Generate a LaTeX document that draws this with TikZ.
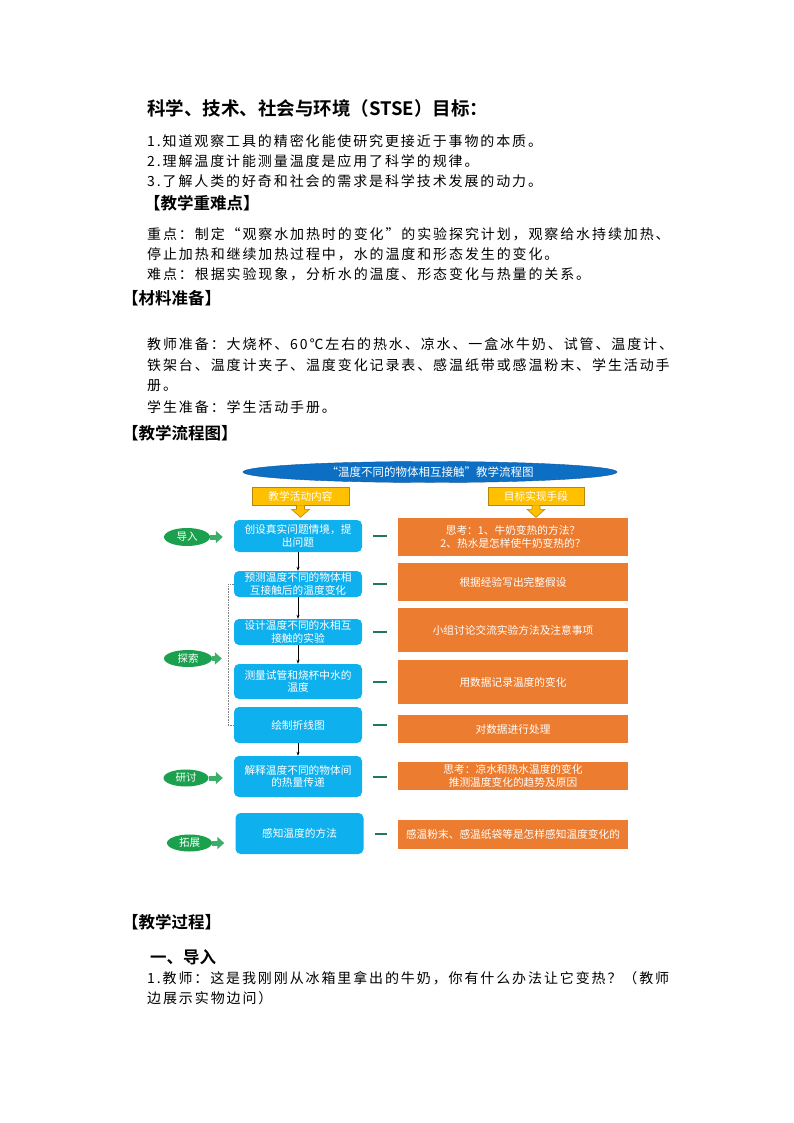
\documentclass[tikz,border=0pt]{standalone}
\usepackage{fontspec}
\setmainfont{Noto Sans CJK SC}[BoldFont={Noto Sans CJK SC Bold}]
\newfontfamily\bodyfont{Noto Sans CJK SC}[LetterSpace=13.5]
\usetikzlibrary{shapes.geometric, arrows.meta}

\definecolor{actblue}{HTML}{0FB0EE}
\definecolor{aimorange}{HTML}{EC7C30}
\definecolor{stagegreen}{HTML}{1BA04E}
\definecolor{linkgreen}{HTML}{217A55}
\definecolor{tagyellow}{HTML}{FFC000}
\definecolor{tagedge}{HTML}{B8860B}
\definecolor{titleblue}{HTML}{0C6FC4}

\begin{document}
\begin{tikzpicture}[x=1pt, y=-1pt,
    txt/.style={anchor=west, inner sep=0pt, font=\fontsize{14}{16}\bodyfont},
    head/.style={anchor=west, inner sep=0pt, font=\fontsize{16.5}{18}\selectfont\bfseries},
    act/.style={fill=actblue, rounded corners=5pt, minimum width=128pt, inner sep=0pt,
      text=white, align=center, font=\fontsize{10.7}{12.5}\selectfont},
    aim/.style={fill=aimorange, minimum width=230pt, inner sep=0pt,
      text=white, align=center, font=\fontsize{10.7}{12.5}\selectfont},
    stage/.style={ellipse, fill=stagegreen, inner sep=0pt, minimum height=17pt,
      text=white, font=\fontsize{10.5}{11}\selectfont},
    tag/.style={fill=tagyellow, draw=tagedge, line width=0.6pt, minimum width=97pt,
      minimum height=18pt, inner sep=0pt, text=white, font=\fontsize{10.7}{11}\selectfont},
    link/.style={draw=linkgreen, line width=2pt, shorten <=11pt, shorten >=11pt},
    push/.style={draw=stagegreen!85!white, line width=5pt, shorten >=11pt,
      -{Triangle[length=7pt, width=12pt]}},
    flow/.style={draw=black, line width=0.7pt, -{Stealth[length=4pt, width=3pt]}},
    bracket/.style={draw=gray, line width=0.6pt, densely dotted}]
  \fill[white] (0,0) rectangle (794,1123);
  \useasboundingbox (0,0) rectangle (794,1123);

  % goals and key points
  \node[head, font=\fontsize{18.5}{20}\selectfont\bfseries] (goal) at (147,108) {科学、技术、社会与环境（STSE）目标：};
  \node[txt] (goal1) at (147,141) {1.知道观察工具的精密化能使研究更接近于事物的本质。};
  \node[txt] (goal2) at (147,161) {2.理解温度计能测量温度是应用了科学的规律。};
  \node[txt] (goal3) at (147,181) {3.了解人类的好奇和社会的需求是科学技术发展的动力。};
  \node[head] (keys) at (144,203) {【教学重难点】};
  \node[txt] (key1) at (147,234) {重点：制定“观察水加热时的变化”的实验探究计划，观察给水持续加热、};
  \node[txt] (key2) at (147,254) {停止加热和继续加热过程中，水的温度和形态发生的变化。};
  \node[txt] (key3) at (147,274) {难点：根据实验现象，分析水的温度、形态变化与热量的关系。};
  \node[head] (mats) at (122,298) {【材料准备】};
  \node[txt] (mat1) at (147,344) {教师准备：大烧杯、60℃左右的热水、凉水、一盒冰牛奶、试管、温度计、};
  \node[txt] (mat2) at (147,365) {铁架台、温度计夹子、温度变化记录表、感温纸带或感温粉末、学生活动手};
  \node[txt] (mat3) at (147,386) {册。};
  \node[txt] (mat4) at (147,407) {学生准备：学生活动手册。};
  \node[head] (chart) at (122,433) {【教学流程图】};

  % flow chart
  \node[ellipse, fill=titleblue, draw=titleblue!80!black, minimum width=374pt, minimum height=21pt,
    inner sep=0pt, text=white, font=\fontsize{11.5}{12}\selectfont] (title) at (430,472)
    {“温度不同的物体相互接触"教学流程图};
  \node[tag] (tagl) at (300.5,496) {教学活动内容};
  \node[tag, minimum width=96pt] (tagr) at (536,496) {目标实现手段};
  \filldraw[fill=tagyellow, draw=tagedge, line width=0.6pt] ([xshift=-4pt]tagl.south) -- ++(0,4) -- ++(-5,0) -- ++(9,8) -- ++(9,-8) -- ++(-5,0) -- ++(0,-4);
  \filldraw[fill=tagyellow, draw=tagedge, line width=0.6pt] ([xshift=-4pt]tagr.south) -- ++(0,4) -- ++(-5,0) -- ++(9,8) -- ++(9,-8) -- ++(-5,0) -- ++(0,-4);

  \node[act, minimum height=32pt] (b1) at (298,536) {创设真实问题情境，提\\出问题};
  \node[act, minimum height=26pt] (b2) at (298,584) {预测温度不同的物体相\\互接触后的温度变化};
  \node[act, minimum height=26pt] (b3) at (298,632) {设计温度不同的水相互\\接触的实验};
  \node[act, minimum height=35pt] (b4) at (298,681.5) {测量试管和烧杯中水的\\温度};
  \node[act, minimum height=36pt] (b5) at (298,725) {绘制折线图};
  \node[act, minimum height=41pt] (b6) at (298,776.5) {解释温度不同的物体间\\的热量传递};
  \node[act, minimum height=41pt] (b7) at (299.5,833.5) {感知温度的方法};

  \node[aim, minimum height=38pt] (o1) at (513,537) {思考：1、牛奶变热的方法？\\2、热水是怎样使牛奶变热的？};
  \node[aim, minimum height=38pt] (o2) at (513,582) {根据经验写出完整假设};
  \node[aim, minimum height=44pt] (o3) at (513,630) {小组讨论交流实验方法及注意事项};
  \node[aim, minimum height=44pt] (o4) at (513,682) {用数据记录温度的变化};
  \node[aim, minimum height=28pt] (o5) at (513,729) {对数据进行处理};
  \node[aim, minimum height=28pt] (o6) at (513,776) {思考：凉水和热水温度的变化\\推测温度变化的趋势及原因};
  \node[aim, minimum height=29pt] (o7) at (513,834.5) {感温粉末、感温纸袋等是怎样感知温度变化的};

  \node[stage, minimum width=46pt, minimum height=18pt] (s1) at (187,537) {导入};
  \node[stage, minimum width=48pt] (s2) at (188,658.5) {探索};
  \node[stage, minimum width=45pt] (s3) at (186,778) {研讨};
  \node[stage, minimum width=45pt] (s4) at (189.5,843) {拓展};

  \draw[flow] (b1.south) -- (b2.north);
  \draw[flow] (b2.south) -- (b3.north);
  \draw[flow] (b3.south) -- (b4.north);
  \draw[flow] (b5.south) -- (b6.north);

  \draw[link] (b1.east) -- (b1.east -| o1.west);
  \draw[link] (b2.east) -- (b2.east -| o2.west);
  \draw[link] (b3.east) -- (b3.east -| o3.west);
  \draw[link] (b4.east) -- (b4.east -| o4.west);
  \draw[link] (b5.east) -- (b5.east -| o5.west);
  \draw[link] (b6.east) -- (b6.east -| o6.west);
  \draw[link] (b7.east) -- (b7.east -| o7.west);

  \draw[bracket] (b2.west) -- ++(-6,0) coordinate (brk) |- (b5.west);
  \draw[push] (s1.east) -- (s1.east -| b1.west);
  \draw[push, shorten >=6pt] (s2.east) -- (s2.east -| brk);
  \draw[push] (s3.east) -- (s3.east -| b6.west);
  \draw[push] (s4.east) -- (s4.east -| b7.west);

  % teaching process
  \node[head] (proc) at (122,922) {【教学过程】};
  \node[head] (intro) at (150,957) {一、导入};
  \node[txt] (step1) at (147,978) {1.教师：这是我刚刚从冰箱里拿出的牛奶，你有什么办法让它变热？（教师};
  \node[txt] (step2) at (147,998) {边展示实物边问）};
\end{tikzpicture}
\end{document}
